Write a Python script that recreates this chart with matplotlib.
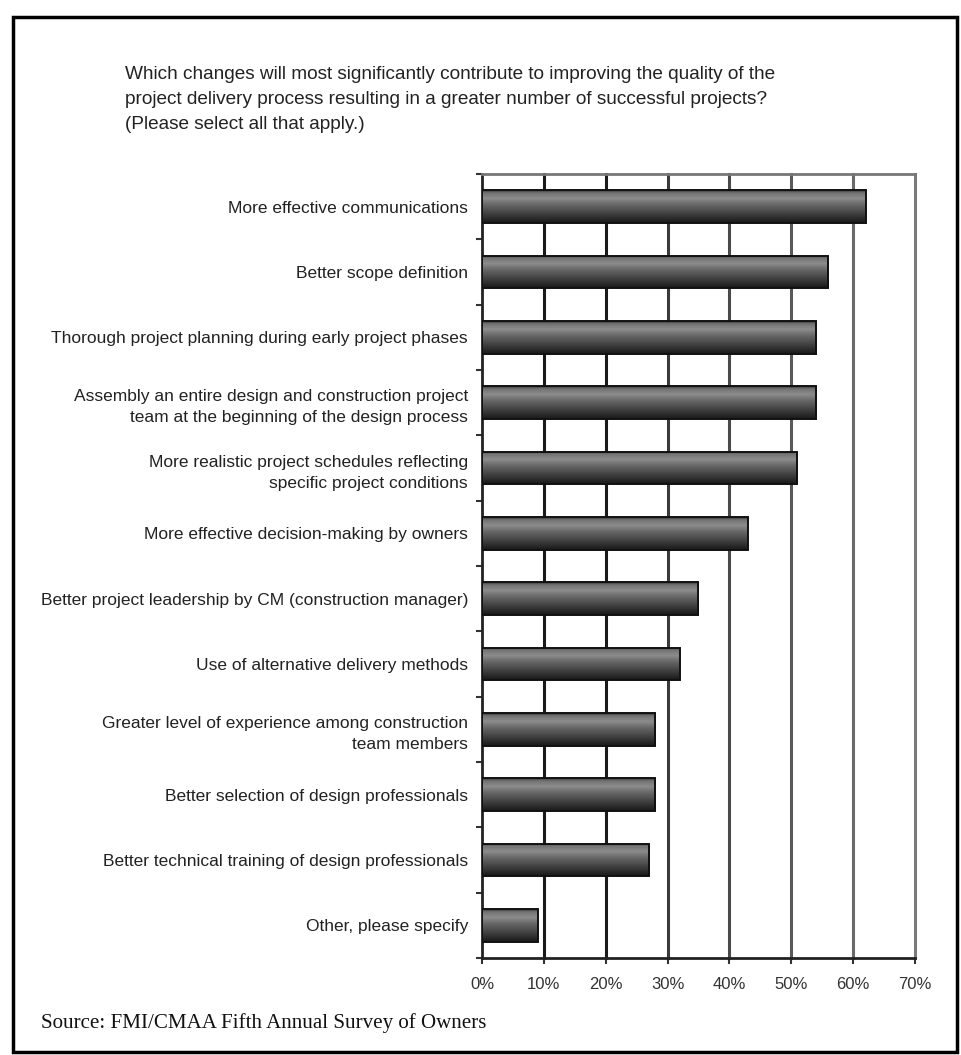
import matplotlib
matplotlib.use("Agg")
import matplotlib.pyplot as plt
import numpy as np
from matplotlib.patches import Rectangle

categories = [
    "More effective communications",
    "Better scope definition",
    "Thorough project planning during early project phases",
    "Assembly an entire design and construction project\nteam at the beginning of the design process",
    "More realistic project schedules reflecting\nspecific project conditions",
    "More effective decision-making by owners",
    "Better project leadership by CM (construction manager)",
    "Use of alternative delivery methods",
    "Greater level of experience among construction\nteam members",
    "Better selection of design professionals",
    "Better technical training of design professionals",
    "Other, please specify",
]
values = [62, 56, 54, 54, 51, 43, 35, 32, 28, 28, 27, 9]
tick_values = [0, 10, 20, 30, 40, 50, 60, 70]
tick_labels = ["0%", "10%", "20%", "30%", "40%", "50%", "60%", "70%"]

title = ("Which changes will most significantly contribute to improving the quality of the\n"
         "project delivery process resulting in a greater number of successful projects?\n"
         "(Please select all that apply.)")
source = "Source: FMI/CMAA Fifth Annual Survey of Owners"

sans = ["Liberation Sans", "DejaVu Sans"]
serif = ["Liberation Serif", "DejaVu Serif"]

W, H = 962, 1055
fig = plt.figure(figsize=(W / 100, H / 100), dpi=100)
ax = fig.add_axes([482 / W, 1 - 958 / H, (915 - 482) / W, (958 - 174) / H])

n = len(categories)
ypos = np.arange(n)[::-1]
bar_h = 0.5

# vertical gradient used inside the bars (top -> bottom)
stops = np.array([0.0, 0.08, 0.25, 0.45, 1.0])
greys = np.array([0.22, 0.45, 0.55, 0.40, 0.10])
grad = np.interp(np.linspace(0, 1, 64), stops, greys).reshape(-1, 1)

bars = ax.barh(ypos, values, height=bar_h, color="none", edgecolor="#111111",
               linewidth=1.4, zorder=4)
for bar in bars:
    x0, y0 = bar.get_x(), bar.get_y()
    w, h = bar.get_width(), bar.get_height()
    im = ax.imshow(grad, cmap="gray", vmin=0, vmax=1, aspect="auto",
                   extent=(x0, x0 + w, y0, y0 + h), origin="upper", zorder=3,
                   interpolation="bilinear")
    im.set_clip_path(bar)

# vertical grid lines, dark on the left fading to grey on the right
grid_cols = ["#1a1a1a", "#1a1a1a", "#1a1a1a", "#3a3a3a", "#4a4a4a", "#5a5a5a", "#6a6a6a", "#7a7a7a"]
for tv, c in zip(tick_values[1:], grid_cols[1:]):
    ax.axvline(tv, color=c, linewidth=2.2, zorder=1, clip_on=False)

ax.set_xlim(0, 70)
ax.set_ylim(-0.5, n - 0.5)
ax.set_xticks(tick_values)
ax.set_xticklabels(tick_labels, fontsize=12, family=sans, color="#333333")
ax.set_yticks(ypos)
ax.set_yticklabels(categories, fontsize=12.5, family=sans, color="#222222",
                   linespacing=1.5)
ax.tick_params(axis="y", length=0, pad=10)
ax.tick_params(axis="x", length=4, width=1.5, color="#333333", pad=10, direction="out")

# small ticks on the left axis at category boundaries
ax.set_yticks(np.arange(n + 1) - 0.5, minor=True)
ax.tick_params(axis="y", which="minor", length=4, width=1.5, color="#333333")

for side in ["left", "bottom"]:
    ax.spines[side].set_linewidth(2.0)
    ax.spines[side].set_color("#222222")
ax.spines["top"].set_color("#777777")
ax.spines["top"].set_linewidth(2.0)
ax.spines["right"].set_visible(False)

fig.text(125 / W, 1 - 66 / H, title, fontsize=13.7, family=sans, color="#222222",
         va="top", ha="left", linespacing=1.6)
fig.text(41 / W, 1 - 1023 / H, source, fontsize=15.1, family=serif, color="#111111",
         va="center", ha="left")

fig.patches.append(Rectangle((13 / W, 1 - 1052 / H), (957 - 13) / W, (1052 - 17) / H,
                             transform=fig.transFigure, fill=False, edgecolor="black",
                             linewidth=2.5))

fig.savefig("out.png", dpi=100)
